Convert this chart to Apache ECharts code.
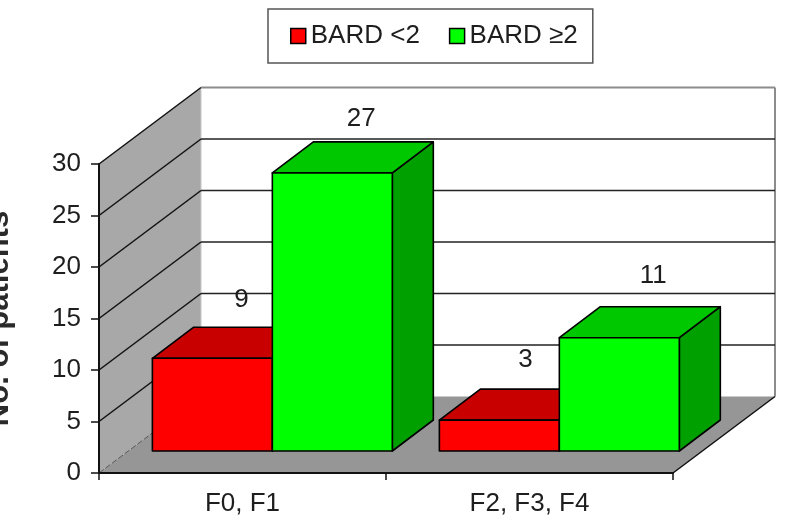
<!DOCTYPE html>
<html>
<head>
<meta charset="utf-8">
<style>html,body{margin:0;padding:0;background:#fff}#c{width:788px;height:527px}</style>
<script src="https://cdn.jsdelivr.net/npm/echarts@6/dist/echarts.min.js"></script>
</head>
<body>
<div id="c"></div>
<script>
const categories = ['F0, F1', 'F2, F3, F4'];
const seriesNames = ['BARD <2', 'BARD \u22652'];
const bardLow = [9, 3];
const bardHigh = [27, 11];
const yTicks = [0, 5, 10, 15, 20, 25, 30];

const FONT = '"Liberation Sans", Arial, sans-serif';
const TEXT = '#1e1e1e';
const WALL = { dx: 102, dy: -76.5 };
const BAR_DEPTH = { dx: 41, dy: -31 };
const BASE_LIFT = 22;
const BAR_LEFT = -0.314, BAR_W = 0.418;
const FRONT = ['#ff0000', '#00ff00'];
const TOP = ['#c80000', '#00c800'];
const SIDE = ['#a00000', '#00a000'];
const LABEL_NUDGE = [[[29, -58], [26, -60]], [[29, -54], [34, -62]]];

function poly(pts, fill, stroke, lw) {
  return { type: 'polygon', shape: { points: pts },
    style: { fill: fill, stroke: stroke || null, lineWidth: lw || 0, lineJoin: 'round' } };
}
function line(a, b, stroke, lw, dash) {
  return { type: 'line', shape: { x1: a[0], y1: a[1], x2: b[0], y2: b[1] },
    style: { stroke: stroke, lineWidth: lw, lineDash: dash || null } };
}

function renderWalls(params, api) {
  const v = api.value(0);
  const cs = params.coordSys;
  const xL = cs.x, xR = cs.x + cs.width;
  const y = api.coord([0, v])[1];
  const children = [];
  const yb = api.coord([0, 0])[1], yt = api.coord([0, 30])[1];
  if (params.dataIndex === 0) {
    children.push(poly([[xL + WALL.dx, yt + WALL.dy], [xR + WALL.dx, yt + WALL.dy], [xR + WALL.dx, yb + WALL.dy], [xL + WALL.dx, yb + WALL.dy]], '#ffffff'));
    children.push(poly([[xL, yt], [xL + WALL.dx, yt + WALL.dy], [xL + WALL.dx, yb + WALL.dy], [xL, yb]], '#a8a8a8'));
    children.push(poly([[xL, yb], [xL + WALL.dx, yb + WALL.dy], [xR + WALL.dx, yb + WALL.dy], [xR, yb]], '#969696'));
    children.push(line([xL + WALL.dx, yt + WALL.dy], [xR + WALL.dx, yt + WALL.dy], '#8c8c8c', 2));
    children.push(line([xR + WALL.dx, yt + WALL.dy], [xR + WALL.dx, yb + WALL.dy], '#8c8c8c', 2));
    children.push(line([xL + WALL.dx, yt + WALL.dy], [xL + WALL.dx, yb + WALL.dy], '#c8c8c8', 1));
    children.push(line([xL, yb], [xL + WALL.dx, yb + WALL.dy], '#555555', 1, [6, 2]));
    children.push(line([xR, yb], [xR + WALL.dx, yb + WALL.dy], '#111111', 1.5));
  } else {
    children.push(line([xL, y], [xL + WALL.dx, y + WALL.dy], '#111111', 1.5));
    if (v < 30) children.push(line([xL + WALL.dx, y + WALL.dy], [xR + WALL.dx, y + WALL.dy], '#222222', 1.6));
  }
  return { type: 'group', children: children };
}

function renderBars(s) {
  return function (params, api) {
    const i = api.value(0), val = api.value(1);
    const band = api.size([1, 0])[0];
    const cx = api.coord([i, 0])[0];
    const w = band * BAR_W;
    const x0 = cx + band * BAR_LEFT + s * w, x1 = x0 + w;
    const y0 = api.coord([i, 0])[1] - BASE_LIFT;
    const yTop = y0 - (api.coord([i, 0])[1] - api.coord([i, val])[1]);
    const d = BAR_DEPTH;
    const nudge = LABEL_NUDGE[s][i];
    return { type: 'group', children: [
      poly([[x1, yTop], [x1 + d.dx, yTop + d.dy], [x1 + d.dx, y0 + d.dy], [x1, y0]], SIDE[s], '#000', 1.6),
      poly([[x0, yTop], [x0 + d.dx, yTop + d.dy], [x1 + d.dx, yTop + d.dy], [x1, yTop]], TOP[s], '#000', 1.6),
      poly([[x0, yTop], [x1, yTop], [x1, y0], [x0, y0]], FRONT[s], '#000', 1.6),
      { type: 'text', style: { x: (x0 + x1) / 2 + nudge[0], y: yTop + nudge[1], text: String(val),
          fill: TEXT, font: '26px ' + FONT, textAlign: 'center', textVerticalAlign: 'middle' } }
    ] };
  };
}

const chart = echarts.init(document.getElementById('c'), null, { renderer: 'canvas' });
chart.setOption({
  animation: false,
  backgroundColor: '#ffffff',
  legend: {
    left: 268, top: 9,
    padding: [14, 15, 14, 22],
    itemGap: 29, itemWidth: 15, itemHeight: 15,
    borderColor: '#555555', borderWidth: 1.5,
    selectedMode: false,
    textStyle: { fontFamily: FONT, fontSize: 26, color: TEXT },
    data: seriesNames.map(function (n, k) {
      return { name: n, icon: 'rect', itemStyle: { color: FRONT[k], borderColor: '#000', borderWidth: 1.5 } };
    })
  },
  grid: { left: 99, top: 164, width: 574, height: 309, outerBoundsMode: 'none', containLabel: false },
  xAxis: {
    type: 'category', data: categories, z: 10,
    axisLine: { lineStyle: { color: '#111', width: 2 } },
    axisTick: { show: true, length: 7, lineStyle: { color: '#111', width: 1.5 } },
    axisLabel: { color: TEXT, fontFamily: FONT, fontSize: 26, margin: 18 }
  },
  yAxis: {
    type: 'value', min: 0, max: 30, interval: 5, z: 10,
    name: 'No. of patients', nameLocation: 'middle', nameGap: 84, nameRotate: 90,
    nameTextStyle: { color: '#2a2a2a', fontFamily: FONT, fontSize: 31, fontWeight: 'bold' },
    axisLine: { show: true, lineStyle: { color: '#111', width: 2 } },
    axisTick: { show: true, length: 8, lineStyle: { color: '#111', width: 1.5 } },
    axisLabel: { color: TEXT, fontFamily: FONT, fontSize: 26, margin: 18 },
    splitLine: { show: false }
  },
  series: [
    { type: 'custom', name: 'walls', z: 1, silent: true, data: yTicks.map(function (t) { return [t]; }),
      encode: { y: 0 }, renderItem: renderWalls },
    { type: 'custom', name: seriesNames[0], z: 2, silent: true, itemStyle: { color: FRONT[0] },
      data: bardLow.map(function (v, i) { return [i, v]; }), encode: { x: 0, y: 1 }, renderItem: renderBars(0) },
    { type: 'custom', name: seriesNames[1], z: 3, silent: true, itemStyle: { color: FRONT[1] },
      data: bardHigh.map(function (v, i) { return [i, v]; }), encode: { x: 0, y: 1 }, renderItem: renderBars(1) }
  ]
});
</script>
</body>
</html>
